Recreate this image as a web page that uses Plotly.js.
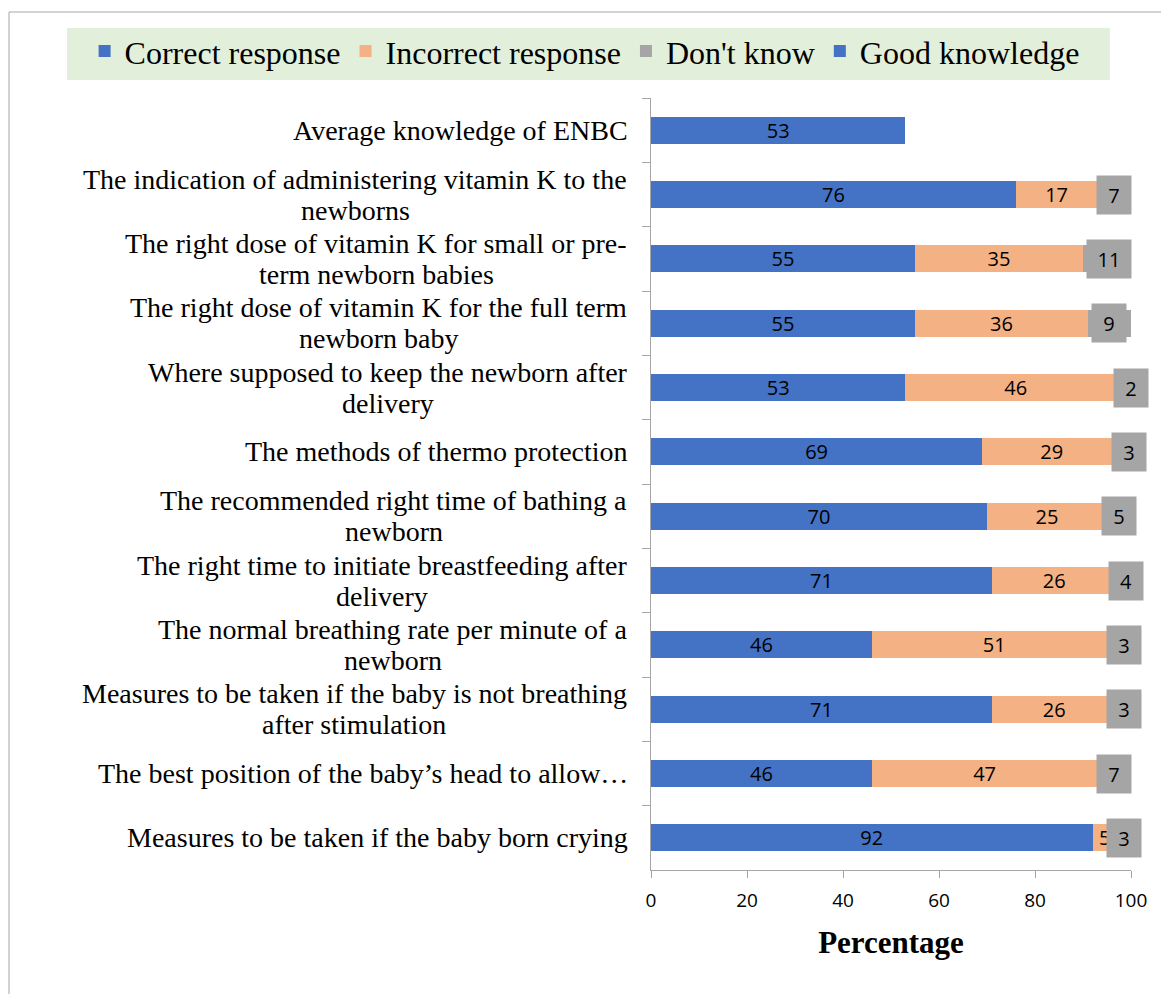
<!DOCTYPE html>
<html>
<head>
<meta charset="utf-8">
<script src="https://cdn.plot.ly/plotly-3.0.1.min.js"></script>
<style>html,body{margin:0;padding:0;background:#fff;}</style>
</head>
<body>
<div id="chart" style="width:1161px;height:994px;"></div>
<script>
// Categories, top to bottom
const categories = [
  "Average knowledge of ENBC",
  "The indication of administering vitamin K to the<br>newborns",
  "The right dose of vitamin K for small or pre-<br>term newborn babies",
  "The right dose of vitamin K for the full term<br>newborn baby",
  "Where supposed to keep the newborn after<br>delivery",
  "The methods of thermo protection",
  "The recommended right time of bathing a<br>newborn",
  "The right time to initiate breastfeeding after<br>delivery",
  "The normal breathing rate per minute of a<br>newborn",
  "Measures to be taken if the baby is not breathing<br>after stimulation",
  "The best position of the baby\u2019s head to allow\u2026",
  "Measures to be taken if the baby born crying"
];
const correctResponse   = [null, 76, 55, 55, 53, 69, 70, 71, 46, 71, 46, 92];
const incorrectResponse = [null, 17, 35, 36, 46, 29, 25, 26, 51, 26, 47, 5];
const dontKnow          = [null, 7, 11, 9, 2, 3, 5, 4, 3, 3, 7, 3];
const goodKnowledge     = [53, null, null, null, null, null, null, null, null, null, null, null];
const xTicks = [0, 20, 40, 60, 80, 100];

const BLUE = '#4472C4', ORANGE = '#F4B183', GRAY = '#A5A5A5';
const labelFont = {family: 'Open Sans, sans-serif', size: 20, color: '#000'};
const tickFont = {family: 'Open Sans, sans-serif', size: 19, color: '#000'};
const serif = 'Liberation Serif, Times New Roman, serif';

// plot geometry (px)
const W = 1161, H = 994, ML = 651, MR = 30, MT = 98, MB = 124;
const PW = W - ML - MR;

function txt(arr){ return arr.map(v => v == null ? '' : String(v)); }
function barTrace(name, vals, color, showText){
  return {
    type: 'bar', orientation: 'h', name: name,
    y: categories, x: vals,
    marker: {color: color},
    text: showText ? txt(vals) : undefined,
    textposition: showText ? 'inside' : 'none',
    insidetextanchor: 'middle',
    textangle: 0,
    constraintext: 'none',
    textfont: labelFont,
    hoverinfo: 'x+name'
  };
}

const traces = [
  barTrace('Correct response', correctResponse, BLUE, true),
  barTrace('Incorrect response', incorrectResponse, ORANGE, true),
  barTrace("Don't know", dontKnow, GRAY, false),
  barTrace('Good knowledge', goodKnowledge, BLUE, true)
];

// text measuring for centered multi-line category labels
const ctx = document.createElement('canvas').getContext('2d');
const CAT_SIZE = 28;
ctx.font = CAT_SIZE + 'px "Liberation Serif"';
const rightEdgePx = ML - 24;
const LINE_GAP = 31;

const annotations = [];
categories.forEach(c => {
  const lines = c.split('<br>');
  if (lines.length === 1) {
    annotations.push({
      xref: 'paper', yref: 'y', x: (rightEdgePx - ML) / PW, y: c,
      xanchor: 'right', yanchor: 'middle', text: c, showarrow: false,
      xshift: 3,
      font: {family: serif, size: CAT_SIZE, color: '#000'}
    });
  } else {
    const maxW = Math.max(...lines.map(l => ctx.measureText(l).width));
    const cx = rightEdgePx - maxW / 2;
    lines.forEach((l, k) => {
      annotations.push({
        xref: 'paper', yref: 'y', x: (cx - ML) / PW, y: c,
        xanchor: 'center', yanchor: 'middle', text: l, showarrow: false,
        yshift: ((lines.length - 1) / 2 - k) * LINE_GAP,
        font: {family: serif, size: CAT_SIZE, color: '#000'}
      });
    });
  }
});
// "Don't know" labels with gray boxes
categories.forEach((c, i) => {
  const d = dontKnow[i];
  if (d == null) return;
  const start = (correctResponse[i] || 0) + (incorrectResponse[i] || 0);
  annotations.push({
    xref: 'x', yref: 'y', x: start + d / 2, y: c,
    text: String(d), showarrow: false,
    bgcolor: GRAY, borderpad: 6,
    width: String(d).length > 1 ? 32 : 22, height: 26,
    font: labelFont
  });
});

const layout = {
  width: W, height: H,
  margin: {l: ML, r: MR, t: MT, b: MB},
  paper_bgcolor: '#fff', plot_bgcolor: '#fff',
  barmode: 'stack', bargap: 0.58,
  showlegend: true,
  legend: {
    orientation: 'h', x: -1.18, xanchor: 'left', y: 1.0605, yanchor: 'middle',
    bgcolor: 'rgba(0,0,0,0)', traceorder: 'normal',
    font: {family: serif, size: 32, color: '#000'}
  },
  xaxis: {
    range: [0, 100], tickvals: xTicks, ticktext: xTicks.map(String),
    ticks: 'outside', ticklen: 7, tickcolor: '#A6A6A6',
    showline: true, linecolor: '#A6A6A6', linewidth: 1,
    showgrid: false, zeroline: false,
    tickfont: tickFont, ticklabelstandoff: 6,
    title: {text: 'Percentage', standoff: 19, font: {family: serif, size: 31, color: '#000', weight: 'bold'}},
    fixedrange: true
  },
  yaxis: {
    type: 'category', autorange: 'reversed',
    showticklabels: false,
    ticks: 'outside', tickson: 'boundaries', ticklen: 8, tickcolor: '#A6A6A6',
    showline: true, linecolor: '#A6A6A6', linewidth: 1,
    showgrid: false, zeroline: false, fixedrange: true
  },
  shapes: [
    {type: 'rect', xref: 'paper', yref: 'paper', x0: -1.3375, x1: 1.1, y0: -0.2, y1: 1.1114,
     line: {color: '#A6A6A6', width: 1}, fillcolor: 'rgba(0,0,0,0)', layer: 'below'},
    {type: 'rect', xref: 'paper', yref: 'paper', x0: -1.2167, x1: 0.956, y0: 1.0233, y1: 1.0907,
     line: {width: 0}, fillcolor: '#E2EFDA', layer: 'below'}
  ],
  annotations: annotations
};

Plotly.newPlot('chart', traces, layout, {displayModeBar: false, staticPlot: true});
</script>
</body>
</html>
